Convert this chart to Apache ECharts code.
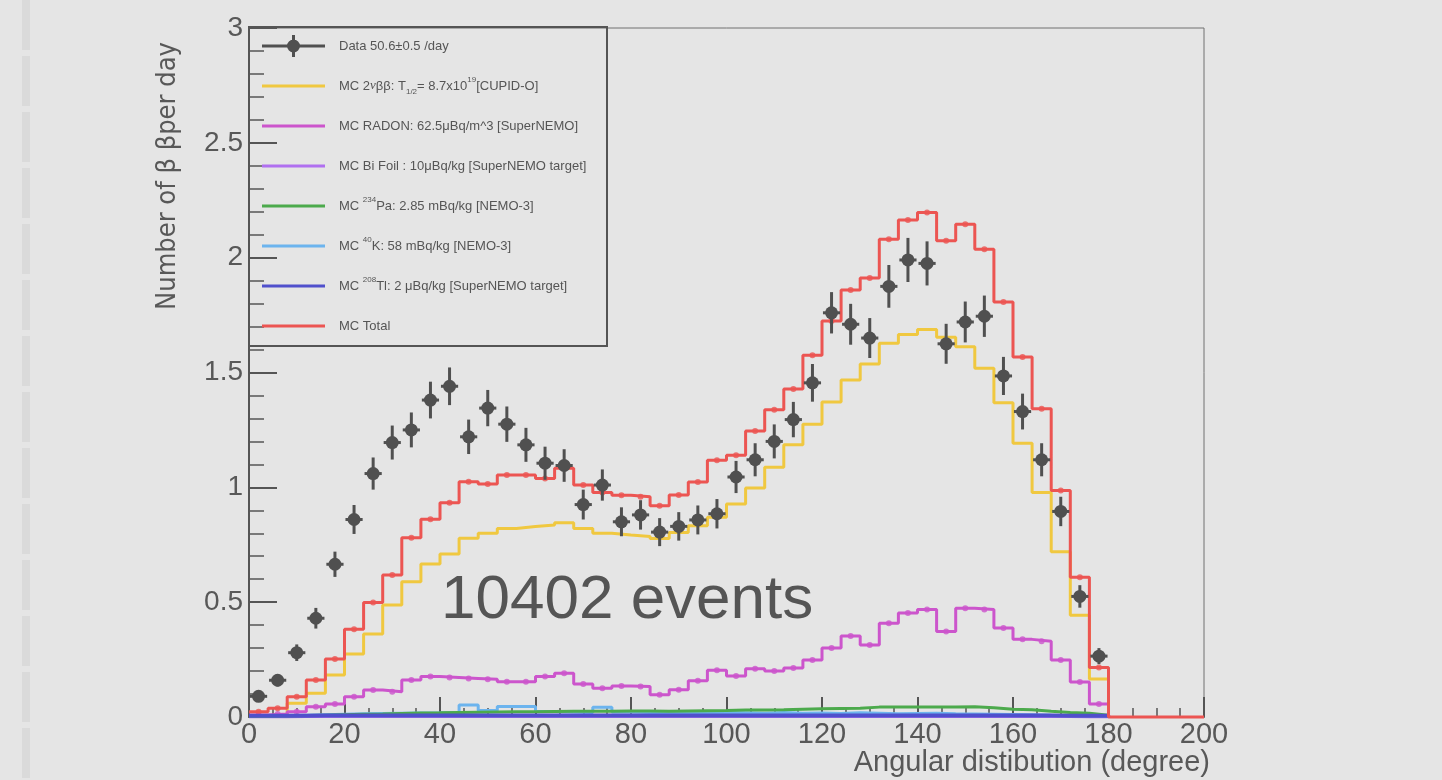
<!DOCTYPE html>
<html>
<head>
<meta charset="utf-8">
<title>Angular distribution</title>
<script src="https://cdn.jsdelivr.net/npm/echarts@6.0.0/dist/echarts.min.js"></script>
<style>
  html, body { margin: 0; padding: 0; background: #e5e5e5; }
  #chart { width: 1442px; height: 780px; }
</style>
</head>
<body>
<div id="chart"></div>
<script>
// 45 bins of 4 degrees, 0..180
const binWidth = 4

const dataValues = [0.09, 0.16, 0.28, 0.43, 0.665, 0.86, 1.06, 1.195, 1.25, 1.38,
  1.44, 1.22, 1.345, 1.275, 1.185, 1.105, 1.095, 0.925, 1.01, 0.85,
  0.88, 0.805, 0.83, 0.858, 0.885, 1.045, 1.12, 1.2, 1.295, 1.455,
  1.76, 1.71, 1.65, 1.875, 1.99, 1.975, 1.625, 1.72, 1.745, 1.485,
  1.33, 1.12, 0.895, 0.525, 0.265]
const dataErrors = [0.02, 0.027, 0.036, 0.045, 0.055, 0.063, 0.07, 0.074, 0.076, 0.08,
  0.082, 0.075, 0.079, 0.077, 0.074, 0.072, 0.071, 0.065, 0.068, 0.063,
  0.064, 0.061, 0.062, 0.063, 0.064, 0.07, 0.072, 0.074, 0.077, 0.082,
  0.09, 0.089, 0.087, 0.093, 0.096, 0.096, 0.087, 0.089, 0.09, 0.083,
  0.078, 0.072, 0.064, 0.049, 0.035]
const mc2nu = [0.005, 0.012, 0.06, 0.103, 0.183, 0.274, 0.361, 0.488, 0.589, 0.666,
  0.71, 0.778, 0.8, 0.821, 0.829, 0.836, 0.846, 0.821, 0.8, 0.792,
  0.786, 0.777, 0.803, 0.833, 0.87, 0.927, 0.997, 1.087, 1.185, 1.275,
  1.372, 1.467, 1.537, 1.627, 1.665, 1.687, 1.653, 1.612, 1.518, 1.368,
  1.192, 0.978, 0.72, 0.443, 0.165]
const mcRadon = [0.009, 0.013, 0.023, 0.045, 0.057, 0.088, 0.118, 0.11, 0.161, 0.176,
  0.172, 0.168, 0.164, 0.154, 0.154, 0.176, 0.19, 0.144, 0.125, 0.135,
  0.133, 0.097, 0.119, 0.158, 0.204, 0.178, 0.21, 0.2, 0.213, 0.248,
  0.3, 0.353, 0.313, 0.408, 0.453, 0.468, 0.372, 0.473, 0.468, 0.387,
  0.338, 0.33, 0.248, 0.152, 0.057]
const mcBiFoil = [0.001, 0.001, 0.002, 0.002, 0.002, 0.002, 0.002, 0.002, 0.002, 0.002,
  0.002, 0.002, 0.002, 0.002, 0.002, 0.002, 0.002, 0.002, 0.002, 0.002,
  0.002, 0.002, 0.002, 0.002, 0.002, 0.002, 0.002, 0.002, 0.002, 0.002,
  0.002, 0.002, 0.002, 0.002, 0.002, 0.002, 0.002, 0.002, 0.002, 0.002,
  0.002, 0.002, 0.002, 0.001, 0.001]
const mcPa234 = [0.003, 0.004, 0.006, 0.008, 0.01, 0.012, 0.013, 0.015, 0.017, 0.018,
  0.02, 0.021, 0.022, 0.023, 0.023, 0.024, 0.025, 0.025, 0.025, 0.026,
  0.026, 0.025, 0.026, 0.027, 0.028, 0.03, 0.031, 0.032, 0.034, 0.036,
  0.037, 0.038, 0.043, 0.044, 0.043, 0.044, 0.044, 0.045, 0.04, 0.034,
  0.032, 0.025, 0.02, 0.016, 0.008]
const mcK40 = [0.004, 0.006, 0.008, 0.01, 0.012, 0.014, 0.015, 0.016, 0.017, 0.018,
  0.02, 0.052, 0.028, 0.046, 0.046, 0.024, 0.022, 0.02, 0.042, 0.022,
  0.02, 0.018, 0.02, 0.018, 0.02, 0.018, 0.016, 0.02, 0.016, 0.017,
  0.015, 0.018, 0.016, 0.014, 0.015, 0.016, 0.014, 0.013, 0.012, 0.011,
  0.01, 0.008, 0.007, 0.005, 0.003]
const mcTl208 = [0.005, 0.005, 0.005, 0.006, 0.006, 0.006, 0.006, 0.006, 0.006, 0.006,
  0.006, 0.006, 0.006, 0.006, 0.006, 0.006, 0.006, 0.006, 0.006, 0.006,
  0.006, 0.006, 0.006, 0.006, 0.006, 0.006, 0.006, 0.006, 0.006, 0.006,
  0.006, 0.006, 0.006, 0.006, 0.006, 0.006, 0.006, 0.006, 0.006, 0.006,
  0.006, 0.006, 0.005, 0.005, 0.005]
const mcTotal = [0.023, 0.038, 0.088, 0.161, 0.252, 0.382, 0.499, 0.618, 0.781, 0.861,
  0.933, 1.024, 1.014, 1.054, 1.054, 1.039, 1.083, 1.01, 0.978, 0.966,
  0.959, 0.92, 0.967, 1.023, 1.118, 1.14, 1.245, 1.338, 1.428, 1.575,
  1.724, 1.859, 1.912, 2.08, 2.164, 2.197, 2.074, 2.145, 2.037, 1.807,
  1.567, 1.342, 0.986, 0.608, 0.216]

const names = {
  data: 'Data 50.6±0.5 /day',
  nu: 'MC 2νββ: T1/2= 8.7x10^19 [CUPID-O]',
  radon: 'MC RADON: 62.5μBq/m^3 [SuperNEMO]',
  bi: 'MC Bi Foil : 10μBq/kg [SuperNEMO target]',
  pa: 'MC 234Pa: 2.85 mBq/kg [NEMO-3]',
  k: 'MC 40K: 58 mBq/kg [NEMO-3]',
  tl: 'MC 208Tl: 2 μBq/kg [SuperNEMO target]',
  total: 'MC Total',
}
const legendText = {
  [names.data]: '{t|Data 50.6±0.5 /day}',
  [names.nu]: '{t|MC 2}{nu|ν}{t|ββ: T}{sub|1/2}{t|= 8.7x10}{sup|19}{t|[CUPID-O]}',
  [names.radon]: '{t|MC RADON: 62.5μBq/m^3 [SuperNEMO]}',
  [names.bi]: '{t|MC Bi Foil : 10μBq/kg [SuperNEMO target]}',
  [names.pa]: '{t|MC }{sup|234}{t|Pa: 2.85 mBq/kg [NEMO-3]}',
  [names.k]: '{t|MC }{sup|40}{t|K: 58 mBq/kg [NEMO-3]}',
  [names.tl]: '{t|MC }{sup|208}{t|Tl: 2 μBq/kg [SuperNEMO target]}',
  [names.total]: '{t|MC Total}',
}

const colors = {
  data: '#505050',
  nu: '#f0c840',
  radon: '#cc55cc',
  bi: '#b070f0',
  pa: '#4caa4c',
  k: '#6cb4ee',
  tl: '#5050cc',
  total: '#ec5552',
}

function stepData(values, tail) {
  const pts = values.map((v, i) => [i * binWidth, v])
  pts.push([values.length * binWidth, 0])
  if (tail) pts.push([200, 0])
  return pts
}
function centers(values) {
  return values.map((v, i) => [(i + 0.5) * binWidth, v])
}
function histSeries(name, values, color, tail, width) {
  return {
    name: name,
    type: 'line',
    step: 'end',
    data: stepData(values, tail),
    symbol: 'none',
    clip: false,
    silent: true,
    lineStyle: { color: color, width: width || 3 },
    itemStyle: { color: color },
  }
}
function binMarks(values, color) {
  return {
    type: 'scatter',
    data: centers(values),
    symbol: 'circle',
    symbolSize: 6,
    silent: true,
    itemStyle: { color: color },
  }
}

const lineIcon = 'path://M0,0M72,22M0,9.5H63V12.5H0Z'
const dataIcon = 'path://M0,0M72,22M0,9.5H63V12.5H0Z M30,0H33V22H30Z M25,11A6.5,6.5,0,1,1,38,11A6.5,6.5,0,1,1,25,11Z'

const legendOrder = ['data', 'nu', 'radon', 'bi', 'pa', 'k', 'tl', 'total']

const chart = echarts.init(document.getElementById('chart'))
chart.setOption({
  animation: false,
  backgroundColor: '#e5e5e5',
  textStyle: { fontFamily: 'Liberation Sans, Arial, sans-serif' },
  grid: {
    left: 249, right: 238, top: 28, bottom: 63,
    containLabel: false,
    outerBoundsMode: 'none',
    show: true,
    borderColor: '#707070',
    borderWidth: 1,
    backgroundColor: 'transparent',
  },
  legend: {
    orient: 'vertical',
    left: 262,
    top: 35,
    padding: 0,
    itemWidth: 72,
    itemHeight: 22,
    itemGap: 18,
    selectedMode: false,
    data: legendOrder.map((k) => ({
      name: names[k],
      icon: k === 'data' ? dataIcon : lineIcon,
      itemStyle: { color: colors[k], borderWidth: 0 },
    })),
    formatter: (name) => legendText[name],
    textStyle: {
      color: '#555',
      fontSize: 13,
      rich: {
        t: { fontSize: 13, color: '#555', lineHeight: 20, fontFamily: 'Liberation Sans' },
        nu: { fontSize: 13, color: '#555', lineHeight: 20, fontStyle: 'italic', fontFamily: 'Liberation Serif' },
        sup: { fontSize: 8, color: '#555', lineHeight: 8, verticalAlign: 'top', fontFamily: 'Liberation Sans' },
        sub: { fontSize: 8, color: '#555', lineHeight: 8, verticalAlign: 'bottom', fontFamily: 'Liberation Sans' },
      },
    },
  },
  xAxis: {
    type: 'value',
    min: 0,
    max: 200,
    interval: 20,
    axisLine: { show: true, lineStyle: { color: '#555', width: 2 } },
    axisTick: { show: true, inside: true, length: 20, lineStyle: { color: '#555', width: 2 } },
    minorTick: { show: true, splitNumber: 4, length: 9, lineStyle: { color: '#555', width: 1.5 } },
    axisLabel: { color: '#585858', fontSize: 29, margin: 3, fontFamily: 'Liberation Sans' },
    splitLine: { show: false },
  },
  yAxis: {
    type: 'value',
    min: 0,
    max: 3,
    interval: 0.5,
    axisLine: { show: true, lineStyle: { color: '#555', width: 2 } },
    axisTick: { show: true, inside: true, length: 28, lineStyle: { color: '#555', width: 2 } },
    minorTick: { show: true, splitNumber: 5, length: 15, lineStyle: { color: '#555', width: 1.5 } },
    axisLabel: { color: '#585858', fontSize: 28, margin: 6, fontFamily: 'Liberation Sans' },
    splitLine: { show: false },
  },
  graphic: [
    {
      type: 'line',
      shape: { x1: 26, y1: 0, x2: 26, y2: 780 },
      style: { stroke: '#dadada', lineWidth: 8, lineDash: [50, 6] },
      silent: true,
    },
    {
      type: 'rect',
      shape: { x: 249, y: 27, width: 358, height: 319 },
      style: { fill: 'none', stroke: '#555', lineWidth: 2 },
      silent: true,
      z: 10,
    },
    {
      type: 'text',
      x: 168,
      y: 176,
      rotation: Math.PI / 2,
      style: {
        text: 'Number of β βper day',
        fill: '#585858',
        font: '27px "Liberation Sans Narrow", "DejaVu Sans Condensed", "Liberation Sans", sans-serif',
        align: 'center',
        verticalAlign: 'middle',
      },
      silent: true,
    },
    {
      type: 'text',
      x: 1210,
      y: 763,
      style: {
        text: 'Angular distibution (degree)',
        fill: '#585858',
        font: '29px "Liberation Sans", sans-serif',
        align: 'right',
        verticalAlign: 'middle',
      },
      silent: true,
    },
    {
      type: 'text',
      x: 441,
      y: 601,
      style: {
        text: '10402 events',
        fill: '#555',
        font: '62px "Liberation Sans", sans-serif',
        align: 'left',
        verticalAlign: 'middle',
      },
      silent: true,
    },
  ],
  series: [
    histSeries(names.nu, mc2nu, colors.nu, false),
    histSeries(names.radon, mcRadon, colors.radon, false),
    binMarks(mcRadon, colors.radon),
    histSeries(names.bi, mcBiFoil, colors.bi, false),
    histSeries(names.k, mcK40, colors.k, false),
    histSeries(names.pa, mcPa234, colors.pa, false),
    histSeries(names.tl, mcTl208, colors.tl, false, 4),
    histSeries(names.total, mcTotal, colors.total, true),
    binMarks(mcTotal, colors.total),
    {
      name: names.data,
      type: 'custom',
      silent: true,
      z: 5,
      itemStyle: { color: colors.data },
      data: dataValues.map((v, i) => [(i + 0.5) * binWidth, v, dataErrors[i]]),
      renderItem: function (params, api) {
        const x = api.value(0)
        const y = api.value(1)
        const e = api.value(2)
        const c = api.coord([x, y])
        const top = api.coord([x, y + e])
        const bot = api.coord([x, y - e])
        const left = api.coord([x - 0.45 * binWidth, y])
        const right = api.coord([x + 0.45 * binWidth, y])
        const stroke = { stroke: colors.data, lineWidth: 3 }
        return {
          type: 'group',
          children: [
            { type: 'line', shape: { x1: c[0], y1: top[1], x2: c[0], y2: bot[1] }, style: stroke },
            { type: 'line', shape: { x1: left[0], y1: c[1], x2: right[0], y2: c[1] }, style: stroke },
            { type: 'circle', shape: { cx: c[0], cy: c[1], r: 6.5 }, style: { fill: colors.data } },
          ],
        }
      },
    },
  ],
})
</script>
</body>
</html>
